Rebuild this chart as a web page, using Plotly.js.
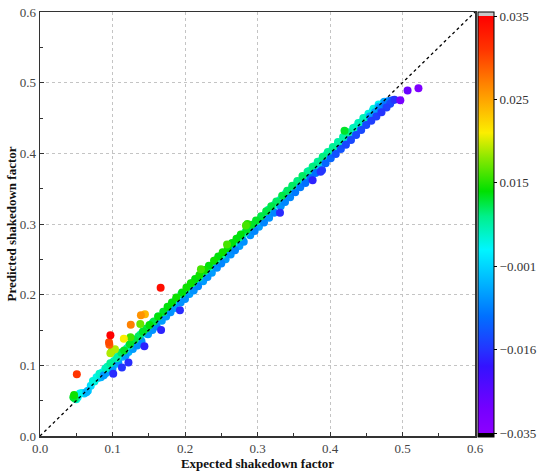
<!DOCTYPE html>
<html>
<head>
<meta charset="utf-8">
<script src="https://cdn.plot.ly/plotly-3.0.1.min.js"></script>
<style>html,body{margin:0;padding:0;background:#fff;}#chart{width:550px;height:476px;}</style>
</head>
<body>
<div id="chart"></div>
<script>
// ---- data ----
const expected = [
0.046,0.047,0.048,0.050,0.052,0.055,0.058,0.061,0.064,0.066,0.070,0.073,0.075,0.078,0.080,0.082,0.084,0.086,0.088,0.090,
0.091,0.093,0.095,0.097,0.098,0.100,0.101,0.102,0.104,0.106,0.108,0.110,0.112,0.113,0.114,0.116,0.118,0.120,0.122,0.122,
0.124,0.126,0.128,0.130,0.132,0.134,0.136,0.138,0.140,0.142,0.144,0.145,0.147,0.149,0.151,0.153,0.155,0.157,0.159,0.161,
0.163,0.165,0.167,0.168,0.170,0.172,0.174,0.176,0.178,0.180,0.182,0.184,0.186,0.188,0.190,0.193,0.194,0.196,0.198,0.200,
0.202,0.204,0.206,0.208,0.210,0.212,0.214,0.216,0.218,0.220,0.222,0.223,0.225,0.227,0.229,0.231,0.233,0.235,0.237,0.240,
0.242,0.244,0.246,0.248,0.250,0.252,0.254,0.256,0.258,0.259,0.261,0.263,0.265,0.267,0.269,0.271,0.273,0.275,0.277,0.279,
0.281,0.284,0.286,0.285,0.288,0.290,0.292,0.294,0.296,0.298,0.300,0.302,0.305,0.307,0.309,0.312,0.314,0.316,0.319,0.321,
0.323,0.326,0.328,0.331,0.332,0.334,0.336,0.338,0.341,0.343,0.345,0.348,0.350,0.352,0.355,0.357,0.359,0.362,0.364,0.366,
0.369,0.371,0.373,0.376,0.376,0.378,0.380,0.383,0.385,0.387,0.389,0.390,0.392,0.394,0.397,0.399,0.401,0.404,0.406,0.408,
0.411,0.413,0.415,0.418,0.420,0.420,0.422,0.425,0.427,0.429,0.432,0.434,0.436,0.439,0.441,0.443,0.446,0.448,0.450,0.453,
0.455,0.457,0.460,0.462,0.464,0.467,0.469,0.471,0.474,0.476,0.478,0.481,0.483,0.486,0.489,0.497,0.507,0.522,
0.1664,0.1392,0.1447,0.1252,0.0971,0.0952,0.0957,0.1156,0.0971,0.1034,0.0990,0.0508,0.1247,0.1383,
0.075,0.083,0.091,0.099,0.107,0.115,0.123,0.131,0.139,0.147,0.155,0.163,0.171,0.179,0.187,0.195,0.203,0.211,0.219,0.227,
0.235,0.243,0.251,0.259,0.267,0.275,0.283,0.291,0.299,0.307,0.315,0.323,0.331,0.339,0.347,0.355,0.363,0.371,0.379,0.387,
0.395,0.403,0.411,0.419,0.427,0.435,0.443,0.451,0.459,0.467,0.475
];
const predicted = [
0.055,0.058,0.053,0.052,0.055,0.060,0.061,0.060,0.062,0.064,0.071,0.078,0.077,0.083,0.082,0.088,0.083,0.090,0.086,0.095,
0.089,0.098,0.092,0.103,0.100,0.095,0.088,0.106,0.102,0.110,0.104,0.113,0.118,0.097,0.112,0.121,0.114,0.124,0.104,0.119,
0.130,0.127,0.123,0.136,0.131,0.128,0.141,0.138,0.134,0.148,0.127,0.145,0.152,0.144,0.157,0.154,0.150,0.162,0.160,0.155,
0.169,0.165,0.150,0.163,0.176,0.173,0.169,0.183,0.178,0.175,0.189,0.185,0.181,0.196,0.190,0.178,0.189,0.203,0.199,0.194,
0.210,0.205,0.201,0.216,0.211,0.206,0.222,0.217,0.212,0.228,0.236,0.224,0.219,0.235,0.230,0.225,0.241,0.236,0.231,0.248,
0.243,0.238,0.254,0.249,0.244,0.260,0.255,0.250,0.271,0.266,0.262,0.257,0.273,0.268,0.263,0.279,0.274,0.269,0.285,0.280,
0.275,0.298,0.300,0.292,0.289,0.284,0.299,0.295,0.290,0.305,0.301,0.296,0.311,0.307,0.302,0.318,0.314,0.309,0.325,0.321,
0.316,0.332,0.328,0.316,0.325,0.340,0.336,0.331,0.347,0.343,0.338,0.354,0.350,0.345,0.361,0.357,0.352,0.368,0.364,0.358,
0.374,0.370,0.365,0.362,0.381,0.376,0.372,0.388,0.383,0.374,0.376,0.395,0.390,0.386,0.402,0.397,0.393,0.409,0.404,0.399,
0.416,0.411,0.406,0.423,0.432,0.418,0.412,0.430,0.425,0.419,0.436,0.432,0.426,0.443,0.438,0.433,0.450,0.445,0.440,0.456,
0.452,0.446,0.463,0.458,0.452,0.469,0.464,0.458,0.472,0.469,0.465,0.474,0.470,0.475,0.476,0.475,0.489,0.492,
0.2099,0.1708,0.1722,0.1575,0.1425,0.1326,0.1292,0.1377,0.1170,0.1227,0.1200,0.0873,0.1397,0.1585,
0.078,0.087,0.096,0.103,0.112,0.119,0.128,0.137,0.144,0.151,0.160,0.169,0.176,0.183,0.192,0.201,0.208,0.217,0.224,0.233,
0.240,0.249,0.256,0.263,0.272,0.281,0.288,0.295,0.304,0.311,0.320,0.327,0.334,0.343,0.350,0.359,0.366,0.375,0.382,0.389,
0.398,0.405,0.414,0.421,0.428,0.437,0.444,0.451,0.460,0.466,0.473
];
const deviation = [
0.012,0.014,0.010,0.004,0.002,0.003,0.001,-0.002,-0.004,-0.002,0.000,0.004,0.001,0.003,0.000,0.005,-0.004,0.002,-0.006,0.004,
-0.005,0.006,-0.005,0.008,0.000,-0.006,-0.017,0.006,-0.003,0.007,-0.006,0.003,0.010,-0.016,-0.004,0.012,-0.006,0.006,-0.017,-0.004,
0.012,0.001,-0.006,0.011,-0.002,-0.007,0.010,0.000,-0.007,0.012,-0.018,-0.001,0.011,-0.006,0.013,0.002,-0.007,0.011,0.000,-0.008,
0.013,-0.001,-0.018,-0.006,0.012,0.001,-0.006,0.013,-0.001,-0.007,0.013,0.001,-0.006,0.014,0.000,-0.017,-0.007,0.013,0.001,-0.007,
0.014,0.000,-0.006,0.014,0.001,-0.007,0.013,0.000,-0.008,0.014,0.016,0.001,-0.006,0.014,0.000,-0.007,0.013,0.001,-0.006,0.014,
0.000,-0.007,0.013,0.001,-0.008,0.014,0.000,-0.006,0.016,0.013,0.001,-0.007,0.013,0.000,-0.008,0.013,0.001,-0.006,0.013,0.000,
-0.007,0.016,0.015,0.012,0.001,-0.007,0.012,0.000,-0.008,0.012,0.000,-0.006,0.011,-0.001,-0.008,0.011,0.000,-0.007,0.011,-0.001,
-0.008,0.010,0.000,-0.017,-0.007,0.011,-0.001,-0.008,0.010,0.000,-0.008,0.010,-0.001,-0.009,0.009,0.000,-0.009,0.010,-0.002,-0.010,
0.008,-0.002,-0.010,-0.018,0.009,-0.003,-0.010,0.008,-0.003,-0.016,-0.015,0.009,-0.003,-0.011,0.008,-0.003,-0.011,0.008,-0.003,-0.013,
0.007,-0.004,-0.013,0.007,0.012,-0.004,-0.014,0.008,-0.004,-0.014,0.006,-0.004,-0.014,0.006,-0.005,-0.014,0.006,-0.005,-0.014,0.004,
-0.006,-0.015,0.004,-0.006,-0.015,0.003,-0.008,-0.016,-0.002,-0.009,-0.015,-0.008,-0.014,-0.012,-0.016,-0.030,-0.028,-0.032,
0.034,0.026,0.024,0.027,0.035,0.030,0.029,0.021,0.019,0.019,0.018,0.031,0.016,0.017,
0.004,0.005,0.006,0.005,0.006,0.005,0.007,0.007,0.006,0.005,0.006,0.007,0.006,0.005,0.006,0.008,0.006,0.008,0.007,0.008,
0.006,0.008,0.007,0.005,0.006,0.008,0.007,0.005,0.006,0.005,0.006,0.004,0.003,0.004,0.003,0.004,0.003,0.004,0.002,0.001,
0.002,0.001,0.002,0.000,-0.001,0.000,-0.002,-0.003,-0.002,-0.004,-0.005
];
// colorbar tick values (non-uniform labels on an evenly spaced bar)
const cbarValues = [-0.035, -0.016, -0.001, 0.015, 0.025, 0.035];
const cbarLabels = ["\u22120.035", "\u22120.016", "\u22120.001", "0.015", "0.025", "0.035"];
const xTickVals = [0, 0.1, 0.2, 0.3, 0.4, 0.5, 0.6];
const yTickVals = [0, 0.1, 0.2, 0.3, 0.4, 0.5, 0.6];

// map deviation onto the evenly spaced colorbar levels (piecewise linear)
function toLevel(v) {
  const n = cbarValues.length;
  if (v <= cbarValues[0]) return 0;
  if (v >= cbarValues[n - 1]) return n - 1;
  for (let i = 0; i < n - 1; i++) {
    if (v <= cbarValues[i + 1]) {
      return i + (v - cbarValues[i]) / (cbarValues[i + 1] - cbarValues[i]);
    }
  }
  return n - 1;
}

// drawing order: points closest to zero deviation first, extremes on top
const order = deviation.map((d, i) => i).sort((a, b) => Math.abs(deviation[a]) - Math.abs(deviation[b]));
const xs = order.map(i => expected[i]);
const ys = order.map(i => predicted[i]);
const levels = order.map(i => toLevel(deviation[i]));

// colour ramp defined in level units
const capPad = 0.048;
const cmin = -capPad, cmax = 5 + capPad;
const rampLevels = [0, 0.3, 0.8, 1.0, 1.4, 1.8, 2.2, 2.6, 2.9, 3.3, 3.6, 4.0, 4.2, 4.6, 5.0];
const rampColors = ['#8c00ff','#7400ff','#3412ff','#2434ff','#0070ff','#00b4ff','#00f6ff','#00f08a','#00e000','#8ae800','#fcee00','#ffa400','#ff8000','#ff3400','#ff0000'];
const norm = L => (L - cmin) / (cmax - cmin);
const colorscale = [[0, '#000000'], [norm(0) - 0.0001, '#000000']];
rampLevels.forEach((L, i) => colorscale.push([norm(L), rampColors[i]]));
colorscale.push([norm(5) + 0.0001, '#c8c8c8']);
colorscale.push([1, '#c8c8c8']);

const serif = '"Liberation Serif", "Times New Roman", serif';

const traces = [
  {
    type: 'scatter', mode: 'markers',
    x: xs, y: ys,
    marker: {
      size: 8, color: levels, colorscale: colorscale, cmin: cmin, cmax: cmax,
      line: {width: 0},
      colorbar: {
        x: 1.0068, xanchor: 'left', xref: 'paper', xpad: 0,
        y: 0.4988, yanchor: 'middle', ypad: 0,
        len: 1.002, lenmode: 'fraction',
        thickness: 16, thicknessmode: 'pixels',
        outlinewidth: 1, outlinecolor: '#000',
        tickmode: 'array', tickvals: [0, 1, 2, 3, 4, 5], ticktext: cbarLabels,
        ticks: 'outside', ticklen: 3, tickcolor: '#000', tickwidth: 1,
        tickfont: {family: serif, size: 13, color: '#333'}
      }
    },
    showlegend: false, hoverinfo: 'x+y'
  },
  {
    type: 'scatter', mode: 'lines',
    x: [0, 0.6], y: [0, 0.6],
    line: {color: '#000', width: 1.3, dash: 'dot'},
    showlegend: false, hoverinfo: 'skip'
  }
];

const axisCommon = {
  range: [0, 0.6],
  tickmode: 'array',
  showline: true, linecolor: '#333', linewidth: 1.5, mirror: true,
  ticks: 'inside', ticklen: 4, tickcolor: '#333', tickwidth: 1,
  minor: {dtick: 0.05, ticks: 'inside', ticklen: 3, tickcolor: '#333', showgrid: false},
  showgrid: true, gridcolor: '#c4c4c4', gridwidth: 1, griddash: '3px,3px',
  zeroline: false,
  tickfont: {family: serif, size: 13, color: '#444'},
  tickformat: '.1f'
};

const layout = {
  width: 550, height: 476,
  margin: {l: 40, r: 69, t: 12, b: 40},
  paper_bgcolor: '#fff', plot_bgcolor: '#fff',
  xaxis: Object.assign({}, axisCommon, {
    tickvals: xTickVals,
    title: {text: '<b>Expected shakedown factor</b>', font: {family: serif, size: 13, color: '#111'}, standoff: 4}
  }),
  yaxis: Object.assign({}, axisCommon, {
    tickvals: yTickVals,
    title: {text: '<b>Predicted shakedown factor</b>', font: {family: serif, size: 13, color: '#111'}, standoff: 0}
  }),
  showlegend: false
};

Plotly.newPlot('chart', traces, layout, {displayModeBar: false, staticPlot: true});
</script>
</body>
</html>
